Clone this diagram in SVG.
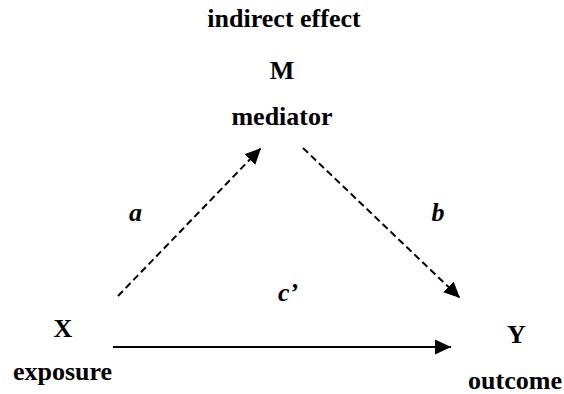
<svg xmlns="http://www.w3.org/2000/svg" width="564" height="394" viewBox="0 0 564 394">
<style>
.t{font-family:"Liberation Serif","Times New Roman",serif;font-weight:bold;font-size:26px;fill:#000;text-anchor:middle}
.i{font-style:italic}
.c{stroke:#000;stroke-width:2;fill:none}
.d{stroke-dasharray:7 4}
</style>
<defs>
<marker id="ah" markerUnits="userSpaceOnUse" markerWidth="18" markerHeight="16" viewBox="0 -8 18 16" refX="16" refY="0" orient="auto">
<path d="M0,-7.5 L16,0 L0,7.5 z" fill="#000"/>
</marker>
</defs>
<rect width="564" height="394" fill="#fff"/>
<text class="t" x="284" y="27">indirect effect</text>
<g id="connectors">
<line class="c d" x1="118" y1="296" x2="261" y2="148" marker-end="url(#ah)"/>
<line class="c d" x1="303" y1="148" x2="460" y2="298" marker-end="url(#ah)"/>
<line class="c" x1="113" y1="347" x2="451" y2="347" marker-end="url(#ah)"/>
<text class="t i" x="135.5" y="221">a</text>
<text class="t i" x="438" y="221">b</text>
<text class="t i" x="278" y="301" style="text-anchor:start">c’</text>
</g>
<g id="node-M">
<text class="t" x="282" y="79">M</text>
<text class="t" x="282" y="125">mediator</text>
</g>
<g id="node-X">
<text class="t" x="63" y="337">X</text>
<text class="t" x="62.5" y="380">exposure</text>
</g>
<g id="node-Y">
<text class="t" x="516.5" y="343">Y</text>
<text class="t" x="515" y="389">outcome</text>
</g>
</svg>
